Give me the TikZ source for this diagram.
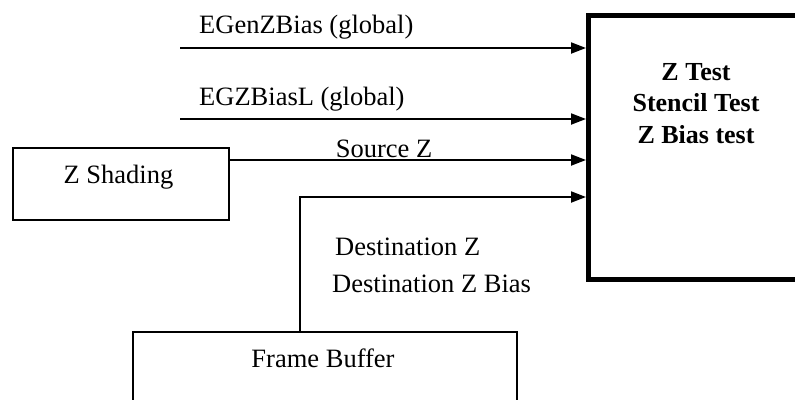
\documentclass[tikz,border=0pt]{standalone}
\usepackage{fontspec}
\setmainfont{Liberation Serif}
\usetikzlibrary{arrows.meta}
\tikzset{
  thinbox/.style={draw, line width=2pt, rectangle, inner sep=0pt},
  arr/.style={line width=2pt, -{Triangle[length=15pt,width=11pt]}},
  lbl/.style={font=\fontsize{26.5}{30}\selectfont, inner sep=0pt, anchor=base},
  bld/.style={font=\fontsize{26}{30}\selectfont\bfseries, inner sep=0pt, anchor=base}
}
\begin{document}
\begin{tikzpicture}[x=1pt,y=-1pt]
\useasboundingbox (0,0) rectangle (795,399);
\clip (0,0) rectangle (795,399);
% main test box
\node[draw, line width=4.5pt, minimum width=220pt, minimum height=264pt, anchor=north west, inner sep=0pt] (zt) at (586,13) {};
\node[bld] (t1) at (696,80) {Z Test};
\node[bld] (t2) at (696,111) {Stencil Test};
\node[bld] (t3) at (696,143) {Z Bias test};
% Z shading
\node[thinbox, minimum width=216pt, minimum height=72pt, anchor=north west] (zs) at (12,147) {};
\node[lbl] (zst) at (118.5,183) {Z Shading};
% Frame buffer
\node[thinbox, minimum width=384pt, minimum height=90pt, anchor=north west] (fb) at (132,331) {};
\node[lbl] (fbt) at (323,367) {Frame Buffer};
% inputs
\coordinate (a1) at (180,48);
\coordinate (a2) at (180,119);
\draw[arr] (a1) -- (a1 -| zt.west);
\draw[arr] (a2) -- (a2 -| zt.west);
\node[lbl, anchor=base west] (l1) at (199,33) {EGenZBias (global)};
\node[lbl, anchor=base west] (l2) at (199,105) {EGZBiasL (global)};
\draw[arr] (zs.east |- 0,160) -- (zt.west |- 0,160);
\node[lbl] (l3) at (384,157) {Source Z};
\coordinate (fbx) at (300,331);
\coordinate (bend) at (300,197);
\draw[arr] (fbx) -- (bend) -- (bend -| zt.west);
\node[lbl, anchor=base west] (l4) at (335,255) {Destination Z};
\node[lbl, anchor=base west] (l5) at (332,292) {Destination Z Bias};
\end{tikzpicture}
\end{document}
